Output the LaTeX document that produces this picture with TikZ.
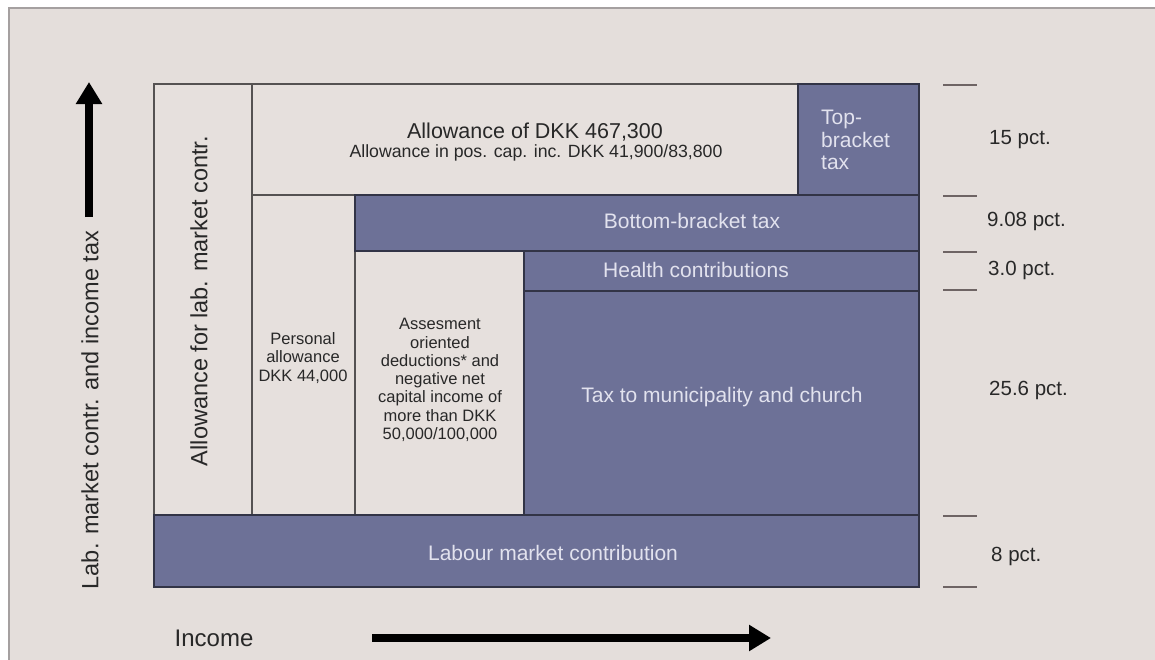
\documentclass[tikz,border=0pt]{standalone}
\usepackage{fontspec}
\setmainfont{Liberation Sans}
\usetikzlibrary{arrows.meta}
\definecolor{bgc}{RGB}{228,222,219}
\definecolor{lightc}{RGB}{230,224,221}
\definecolor{bluec}{RGB}{109,113,151}
\definecolor{darkline}{RGB}{50,52,70}
\definecolor{greyline}{RGB}{85,82,82}
\definecolor{txtdark}{RGB}{40,40,40}
\definecolor{txtlight}{RGB}{226,226,238}
\definecolor{tickc}{RGB}{110,100,100}
\definecolor{framec}{RGB}{165,160,160}
\begin{document}
\begin{tikzpicture}[x=1pt,y=-1pt,
  cell/.style={draw=greyline, line width=1.3pt, fill=lightc, inner sep=0pt, outer sep=0pt, anchor=north west},
  bcell/.style={draw=darkline, line width=1.6pt, fill=bluec, inner sep=0pt, outer sep=0pt, anchor=north west},
  wtext/.style={text=txtlight, inner sep=0pt, font=\fontsize{21}{23}\selectfont},
  dtext/.style={text=txtdark, inner sep=0pt},
  small/.style={dtext, align=center, font=\fontsize{16.5}{18.3}\selectfont},
  pct/.style={dtext, anchor=west, font=\fontsize{20.5}{23}\selectfont},
  tick/.style={draw=tickc, line width=1.8pt},
  bigarrow/.style={line width=8pt, -{Triangle[length=22pt,width=25pt]}}
]
\useasboundingbox (0,0) rectangle (1155,659);
\fill[white] (0,0) rectangle (1155,659);
\fill[bgc] (9,8) rectangle (1160,665);
\draw[framec, line width=2pt] (9,665) -- (9,8) -- (1160,8);

% cells
\node[cell, minimum width=98pt, minimum height=431pt] (alc) at (154,84) {};
\node[cell, minimum width=546pt, minimum height=111pt] (allow) at (252,84) {};
\node[cell, minimum width=103pt, minimum height=320pt] (pers) at (252,195) {};
\node[cell, minimum width=169pt, minimum height=264pt] (assess) at (355,251) {};
\node[bcell, minimum width=121pt, minimum height=111pt] (top) at (798,84) {};
\node[bcell, minimum width=564pt, minimum height=56pt] (bottom) at (355,195) {};
\node[bcell, minimum width=395pt, minimum height=40pt] (health) at (524,251) {};
\node[bcell, minimum width=395pt, minimum height=224pt] (muni) at (524,291) {};
\node[bcell, minimum width=765pt, minimum height=72pt] (lmc) at (154,515) {};

% texts in cells
\node[dtext, font=\fontsize{21.5}{24}\selectfont] (allowA) at (535,132) {Allowance of DKK 467,300};
\node[dtext, font=\fontsize{17.7}{20}\selectfont] (allowB) at (536,153) {Allowance in pos. cap. inc. DKK 41,900/83,800};
\node[wtext, anchor=west, align=left, font=\fontsize{21}{22.5}\selectfont] (topT) at (821,140) {Top-\\bracket\\tax};
\node[wtext] (bottomT) at (692,221) {Bottom-bracket tax};
\node[wtext] (healthT) at (696,270) {Health contributions};
\node[wtext] (muniT) at (722,397) {Tax to municipality and church};
\node[wtext] (lmcT) at (553,553) {Labour market contribution};
\node[small] (persT) at (303,358) {Personal\\allowance\\DKK 44,000};
\node[small] (assessT) at (440,380) {Assesment\\oriented\\deductions* and\\negative net\\capital income of\\more than DKK\\50,000/100,000};
\node[dtext, rotate=90, font=\fontsize{23.5}{26}\selectfont] (alcT) at (199,301) {Allowance for lab. market contr.};

% rates
\node[pct] (p15) at (989,140) {15 pct.};
\node[pct] (p9) at (987,221) {9.08 pct.};
\node[pct] (p3) at (988,270) {3.0 pct.};
\node[pct] (p25) at (989,390) {25.6 pct.};
\node[pct] (p8) at (991,556) {8 pct.};
\foreach \yy in {85,196,252,290,516,587} \draw[tick] (943,\yy) -- (977,\yy);

% axes
\node[dtext, rotate=90, font=\fontsize{23.5}{26}\selectfont] (yaxis) at (90,410) {Lab. market contr. and income tax};
\node[dtext, font=\fontsize{24}{26}\selectfont] (xaxis) at (214,638) {Income};
\coordinate (ya) at (89,217);
\coordinate (yb) at (89,82);
\coordinate (xa) at (372,638);
\coordinate (xb) at (771,638);
\draw[bigarrow] (ya) -- (yb);
\draw[bigarrow] (xa) -- (xb);
\end{tikzpicture}
\end{document}
